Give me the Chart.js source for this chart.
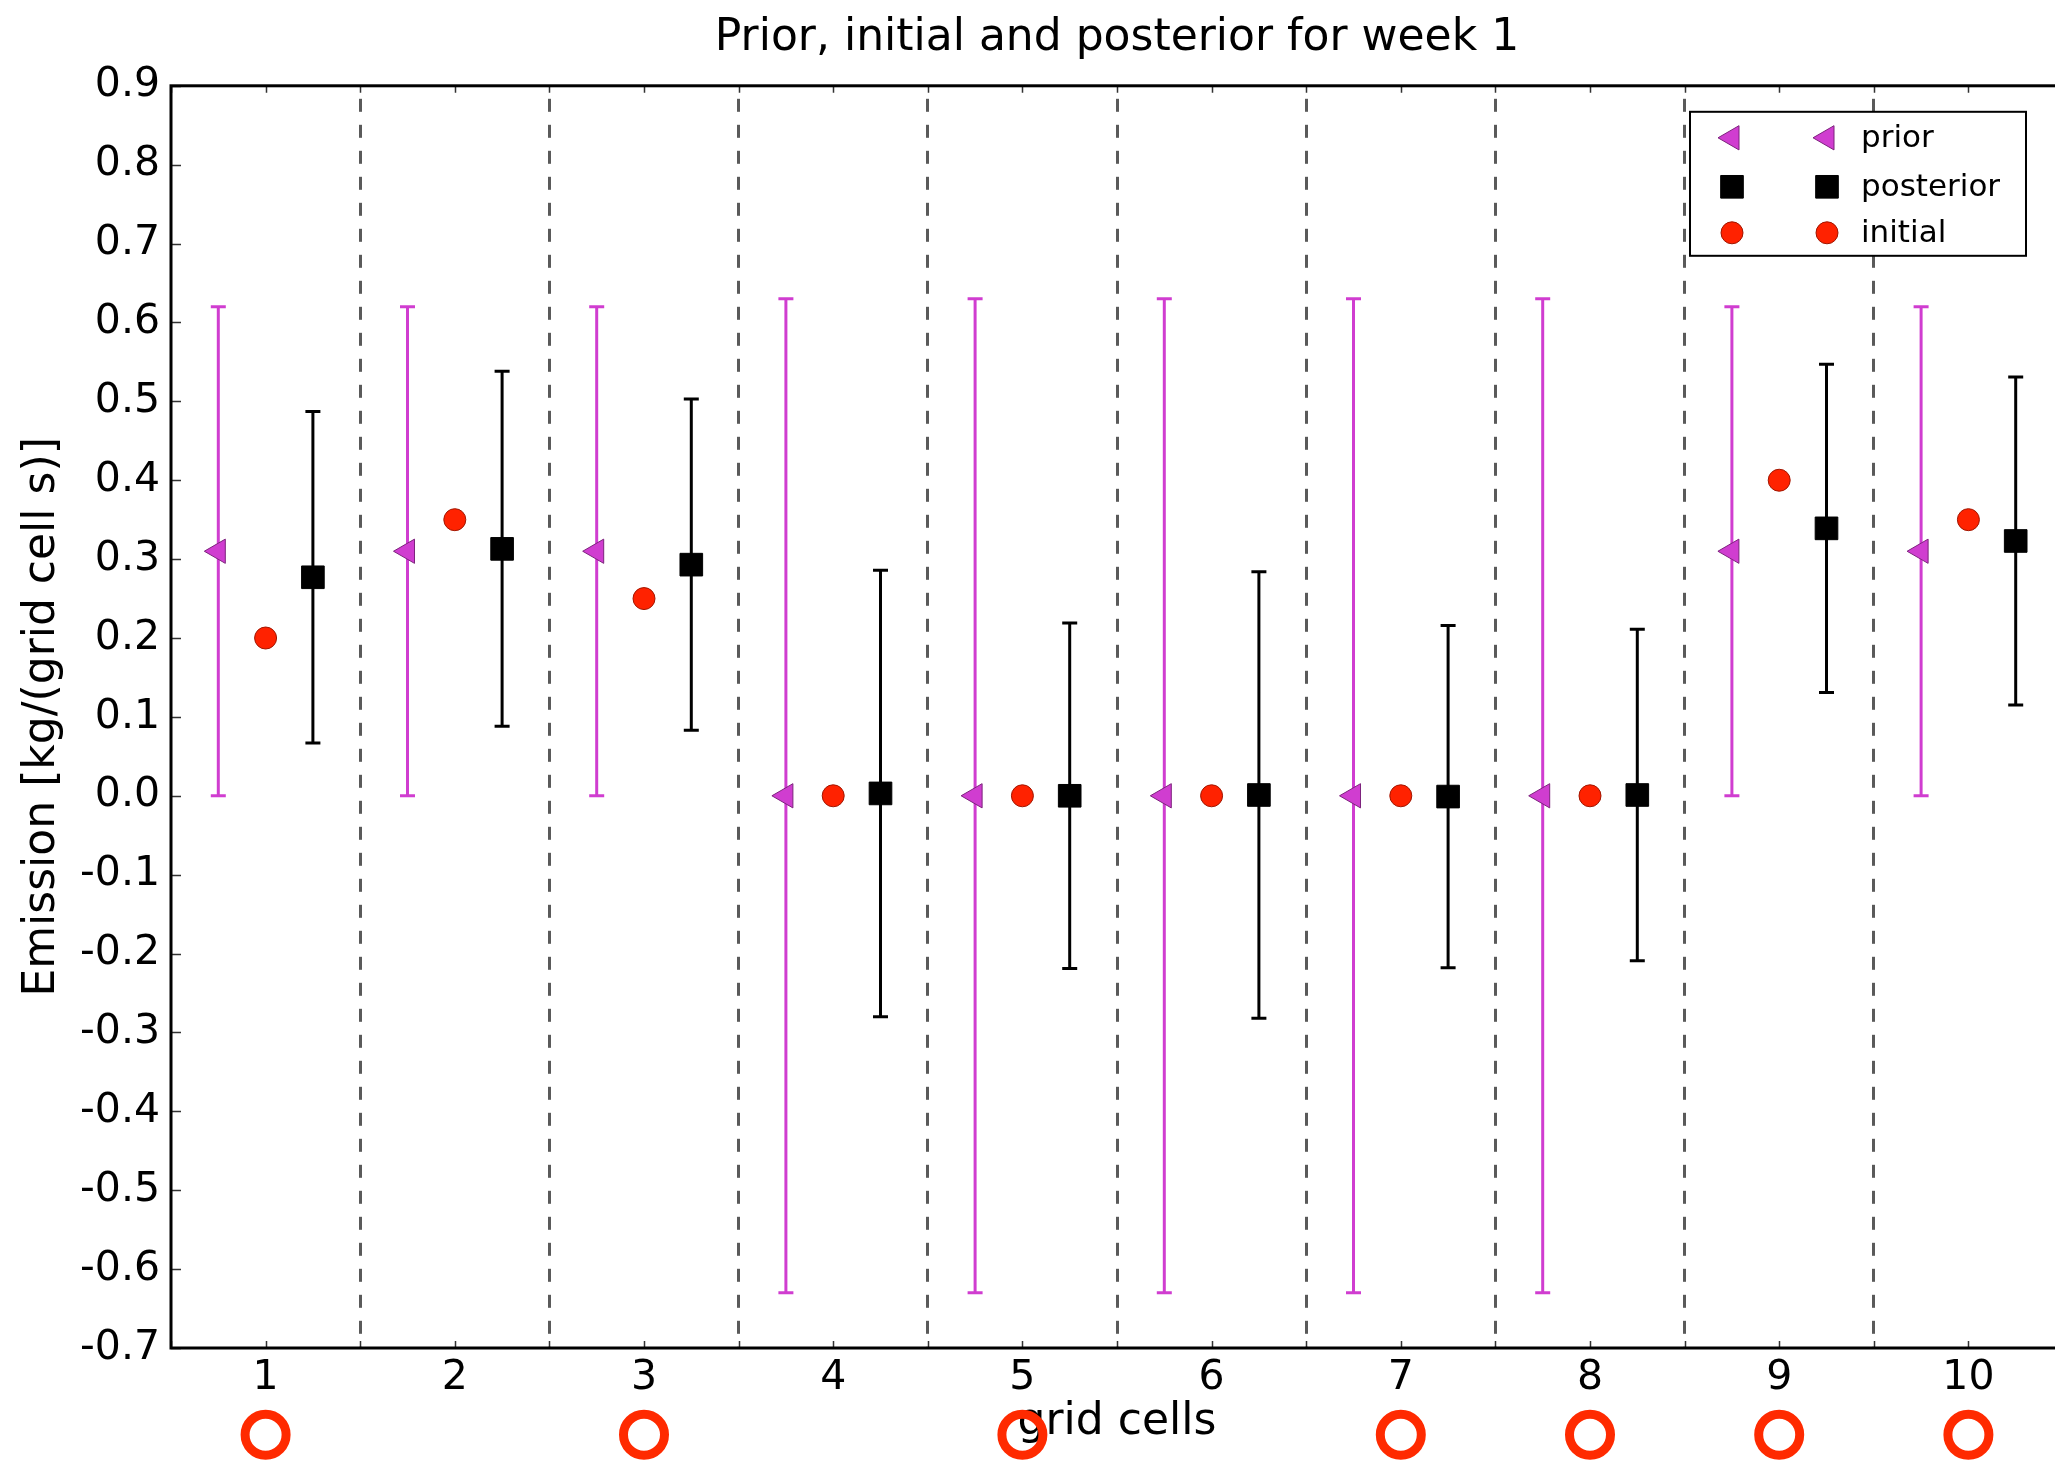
<!DOCTYPE html>
<html>
<head>
<meta charset="utf-8">
<script src="https://cdn.jsdelivr.net/npm/chart.js@4/dist/chart.umd.min.js"></script>
<style>
html,body{margin:0;padding:0;background:#fff;overflow:hidden;width:2055px;height:1460px}
#wrap{position:relative;width:2080px;height:1460px}
canvas{display:block}
</style>
</head>
<body>
<div id="wrap"><canvas id="c" width="2080" height="1460" style="width:2080px;height:1460px"></canvas></div>
<script>
// ---- data ----
const categories = [1, 2, 3, 4, 5, 6, 7, 8, 9, 10];
const priorValues = [0.31, 0.31, 0.31, 0, 0, 0, 0, 0, 0.31, 0.31];
const priorErrors = [0.31, 0.31, 0.31, 0.63, 0.63, 0.63, 0.63, 0.63, 0.31, 0.31];
const initialValues = [0.2, 0.35, 0.25, 0, 0, 0, 0, 0, 0.4, 0.35];
const posteriorValues = [0.277, 0.313, 0.293, 0.003, 0.0, 0.001, -0.001, 0.001, 0.339, 0.323];
const posteriorErrors = [0.21, 0.225, 0.21, 0.283, 0.219, 0.283, 0.217, 0.21, 0.208, 0.208];
const flaggedCells = [1, 3, 5, 7, 8, 9, 10];
const xTickValues = [0.5, 1, 1.5, 2, 2.5, 3, 3.5, 4, 4.5, 5, 5.5, 6, 6.5, 7, 7.5, 8, 8.5, 9, 9.5, 10, 10.5];
const yTickValues = [0.9, 0.8, 0.7, 0.6, 0.5, 0.4, 0.3, 0.2, 0.1, 0.0, -0.1, -0.2, -0.3, -0.4, -0.5, -0.6, -0.7];
const yTickLabels = ['0.9','0.8','0.7','0.6','0.5','0.4','0.3','0.2','0.1','0.0','-0.1','-0.2','-0.3','-0.4','-0.5','-0.6','-0.7'];
const seriesNames = ['prior', 'posterior', 'initial'];
const chartTitle = 'Prior, initial and posterior for week 1';
const xTitle = 'grid cells';
const yTitle = 'Emission [kg/(grid cell s)]';

// ---- styles ----
const FONT = "'DejaVu Sans', 'Bitstream Vera Sans', sans-serif";
const MAGENTA = '#d03dd0';
const RED = '#ff2200';
const PRIOR_OFF = -0.25, INIT_OFF = 0, POST_OFF = 0.25;

function markerPoints(offset, values) {
  return categories.map((c, i) => ({x: c + offset, y: values[i]}));
}
function errorBarPoints(offset, values, errors) {
  const pts = [];
  categories.forEach((c, i) => {
    pts.push({x: c + offset, y: values[i] - errors[i]});
    pts.push({x: c + offset, y: values[i] + errors[i]});
    pts.push({x: c + offset, y: null});
  });
  return pts;
}

const markerStyles = {
  prior: {pointStyle: 'triangle', rotation: -90, radius: 14, fill: MAGENTA, stroke: '#7d237d', borderWidth: 1},
  posterior: {pointStyle: 'rect', rotation: 0, radius: 16, fill: '#000000', stroke: '#000000', borderWidth: 1},
  initial: {pointStyle: 'circle', rotation: 0, radius: 11, fill: RED, stroke: '#a01600', borderWidth: 1}
};

function markerDataset(name, offset, values) {
  const s = markerStyles[name];
  return {
    label: name, data: markerPoints(offset, values), showLine: false, order: 0,
    pointStyle: s.pointStyle, pointRotation: s.rotation, pointRadius: s.radius, pointHoverRadius: s.radius,
    pointBackgroundColor: s.fill, pointBorderColor: s.stroke, pointBorderWidth: s.borderWidth,
    backgroundColor: s.fill, borderColor: s.stroke
  };
}
function errorDataset(name, offset, values, errors, color) {
  return {
    label: name + ' error', data: errorBarPoints(offset, values, errors), showLine: true, spanGaps: false, order: 1,
    borderColor: color, borderWidth: 3, fill: false, tension: 0,
    pointStyle: 'line', pointRadius: 7.5, pointHoverRadius: 7.5, pointBorderWidth: 3,
    pointBorderColor: color, pointBackgroundColor: color
  };
}

// ---- plugins ----
function drawMarker(ctx, s, x, y) {
  ctx.save();
  ctx.fillStyle = s.fill; ctx.strokeStyle = s.stroke; ctx.lineWidth = s.borderWidth;
  if (Chart.helpers && Chart.helpers.drawPoint) {
    Chart.helpers.drawPoint(ctx, {pointStyle: s.pointStyle, rotation: s.rotation, radius: s.radius, borderWidth: s.borderWidth}, x, y);
  } else {
    ctx.beginPath(); ctx.arc(x, y, s.radius, 0, Math.PI * 2); ctx.fill(); ctx.stroke();
  }
  ctx.restore();
}

const framePlugin = {
  id: 'frame',
  afterDraw(chart) {
    const ctx = chart.ctx, a = chart.chartArea;
    const xs = chart.scales.x, ys = chart.scales.y;
    ctx.save();
    // inward ticks
    ctx.strokeStyle = '#333'; ctx.lineWidth = 1.5;
    ctx.beginPath();
    xTickValues.forEach(v => {
      const px = Math.round(xs.getPixelForValue(v)) + 0.5;
      ctx.moveTo(px, a.bottom); ctx.lineTo(px, a.bottom - 7);
      ctx.moveTo(px, a.top); ctx.lineTo(px, a.top + 7);
    });
    yTickValues.forEach(v => {
      const py = Math.round(ys.getPixelForValue(v)) + 0.5;
      ctx.moveTo(a.left, py); ctx.lineTo(a.left + 10, py);
    });
    ctx.stroke();
    // frame
    ctx.strokeStyle = '#000'; ctx.lineWidth = 3;
    ctx.strokeRect(a.left, a.top, a.right - a.left, a.bottom - a.top);
    ctx.restore();

    // legend (two markers per entry)
    const bw = 336, bh = 144;
    const lx = a.right - 37 - bw, ly = a.top + 26;
    ctx.save();
    ctx.fillStyle = '#fff'; ctx.fillRect(lx, ly, bw, bh);
    ctx.strokeStyle = '#000'; ctx.lineWidth = 2; ctx.strokeRect(lx, ly, bw, bh);
    ctx.font = '31px ' + FONT; ctx.fillStyle = '#000'; ctx.textBaseline = 'middle'; ctx.textAlign = 'left';
    const rows = [26, 75, 121];
    seriesNames.forEach((n, i) => {
      const s = markerStyles[n];
      const yy = ly + rows[i];
      drawMarker(ctx, s, lx + 42, yy);
      drawMarker(ctx, s, lx + 137, yy);
      ctx.fillText(n, lx + 171, yy + 1);
    });
    ctx.restore();

    // red annotation rings under flagged cells
    ctx.save();
    ctx.strokeStyle = '#ff2a00'; ctx.lineWidth = 9;
    flaggedCells.forEach(c => {
      const px = xs.getPixelForValue(c), py = ys.getPixelForValue(-0.81);
      ctx.beginPath(); ctx.arc(px, py, 20.5, 0, Math.PI * 2); ctx.stroke();
    });
    ctx.restore();
  }
};

// ---- chart ----
new Chart(document.getElementById('c'), {
  type: 'scatter',
  data: {
    datasets: [
      markerDataset('prior', PRIOR_OFF, priorValues),
      markerDataset('initial', INIT_OFF, initialValues),
      markerDataset('posterior', POST_OFF, posteriorValues),
      errorDataset('prior', PRIOR_OFF, priorValues, priorErrors, MAGENTA),
      errorDataset('posterior', POST_OFF, posteriorValues, posteriorErrors, '#000000')
    ]
  },
  options: {
    responsive: false,
    animation: false,
    devicePixelRatio: 1,
    layout: {padding: {left: 0, right: 15, top: 0, bottom: 0}},
    plugins: {
      legend: {display: false},
      tooltip: {enabled: false},
      title: {
        display: true, fullSize: false, text: chartTitle, color: '#000',
        font: {family: FONT, size: 44, weight: 'normal'},
        padding: {top: 12, bottom: 21}
      }
    },
    scales: {
      x: {
        type: 'linear', min: 0.5, max: 10.5,
        afterBuildTicks: s => { s.ticks = xTickValues.map(v => ({value: v})); },
        afterFit: s => { s.height = 112; },
        ticks: {
          autoSkip: false, maxRotation: 0, padding: 6, color: '#000',
          font: {family: FONT, size: 41},
          callback: v => (Number.isInteger(v) ? String(v) : '')
        },
        grid: {
          drawTicks: false, lineWidth: 3,
          color: c => (c.tick && !Number.isInteger(c.tick.value) && c.tick.value > 0.6 && c.tick.value < 10.4) ? '#5a5a5a' : 'rgba(0,0,0,0)'
        },
        border: {display: false, dash: [13, 13], dashOffset: 13},
        title: {
          display: true, text: xTitle, color: '#000',
          font: {family: FONT, size: 44}, padding: {top: 0, bottom: 11}
        }
      },
      y: {
        type: 'linear', min: -0.7, max: 0.9,
        afterBuildTicks: s => { s.ticks = yTickValues.map(v => ({value: v})); },
        afterFit: s => { s.width = 171; },
        ticks: {
          autoSkip: false, padding: 11, color: '#000',
          font: {family: FONT, size: 41},
          callback: (v, i) => yTickLabels[i]
        },
        grid: {display: false, drawTicks: false},
        border: {display: false},
        title: {
          display: true, text: yTitle, color: '#000',
          font: {family: FONT, size: 44}, padding: {top: 16, bottom: 0}
        }
      }
    }
  },
  plugins: [framePlugin]
});
</script>
</body>
</html>
